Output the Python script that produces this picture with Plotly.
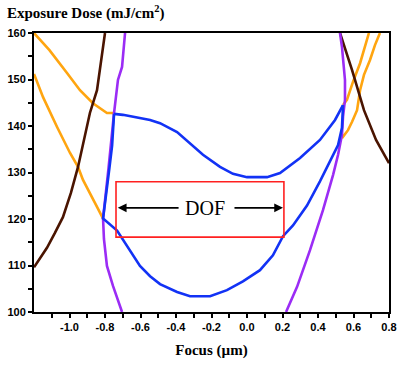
import plotly.graph_objects as go

# ---- data (focus in µm, dose in mJ/cm²) ----
orange_a_x = [-1.2, -1.113, -1.014, -0.941, -0.868, -0.789, -0.755, -0.749]
orange_a_y = [160, 156.3, 151.4, 147.7, 144.9, 142.8, 142.8, 142.6]
orange_b_x = [-1.2, -1.149, -1.070, -0.997, -0.952, -0.924, -0.845, -0.811]
orange_b_y = [151.2, 146.2, 139.8, 134.2, 131.2, 128.4, 122.6, 120.1]
orange_c_x = [0.687, 0.659, 0.637, 0.597, 0.563, 0.541]
orange_c_y = [160, 156.3, 153.5, 149.5, 145.6, 144.5]
orange_d_x = [0.749, 0.721, 0.693, 0.659, 0.637, 0.620, 0.592, 0.569, 0.535]
orange_d_y = [160, 157.4, 154.2, 151.0, 147.7, 143.4, 140.9, 139.1, 137.4]

brown_l_x = [-0.800, -0.823, -0.845, -0.885, -0.918, -0.952, -0.992, -1.037, -1.082, -1.127, -1.2]
brown_l_y = [160, 154.2, 147.7, 142.8, 137.0, 131.2, 125.6, 120.4, 117.0, 113.8, 109.6]
brown_r_x = [0.524, 0.592, 0.659, 0.727, 0.80]
brown_r_y = [160, 152.0, 143.4, 137.0, 132.0]

purple_l_x = [-0.687, -0.704, -0.727, -0.749, -0.780, -0.811, -0.806, -0.789, -0.755, -0.704]
purple_l_y = [160, 152.7, 149.9, 142.8, 131.0, 120.1, 115.7, 109.9, 105.6, 100]
purple_r_x = [0.524, 0.535, 0.552, 0.552, 0.541, 0.535, 0.513, 0.485, 0.428, 0.355, 0.282, 0.220]
purple_r_y = [160, 157.0, 149.9, 145.6, 142.0, 138.1, 133.8, 129.5, 121.9, 113.3, 105.4, 100]

blue_up_x = [-0.749, -0.699, -0.546, -0.490, -0.394, -0.321, -0.248, -0.152, -0.079, 0.0, 0.113, 0.186, 0.299, 0.411, 0.496, 0.541]
blue_up_y = [142.6, 142.4, 141.3, 140.6, 138.7, 136.3, 133.8, 131.2, 129.7, 129.0, 129.0, 129.9, 133.1, 137.0, 141.3, 144.5]
blue_lo_x = [-0.749, -0.760, -0.775, -0.790, -0.811, -0.732, -0.659, -0.603, -0.546, -0.490, -0.394, -0.321, -0.208, -0.113, -0.023,
             0.073, 0.146, 0.203, 0.259, 0.338, 0.411, 0.468, 0.513, 0.535, 0.541]
blue_lo_y = [142.6, 135.8, 131.0, 126.0, 120.1, 117.5, 113.2, 109.9, 107.7, 106.0, 104.3, 103.4, 103.4, 104.7, 106.6,
             109.0, 112.2, 116.3, 118.6, 122.9, 128.1, 132.5, 135.9, 139.6, 144.5]

x_tickvals = [-1.0, -0.8, -0.6, -0.4, -0.2, 0.0, 0.2, 0.4, 0.6, 0.8]
x_ticktext = ["-1.0", "-0.8", "-0.6", "-0.4", "-0.2", "0.0", "0.2", "0.4", "0.6", "0.8"]
x_minor = [-1.1, -0.9, -0.7, -0.5, -0.3, -0.1, 0.1, 0.3, 0.5, 0.7]
y_tickvals = [100, 110, 120, 130, 140, 150, 160]
y_minor = [105, 115, 125, 135, 145, 155]

dof_left, dof_right = -0.738, 0.208
dof_bottom, dof_top = 116.1, 128.0
dof_y = 122.4
dof_text_x = -0.237
dof_tail_left, dof_tail_right = -0.377, -0.079

ORANGE = "#FFA510"
BROWN = "#4A1400"
PURPLE = "#9B2CF5"
BLUE = "#1232F5"

fig = go.Figure()

def add(xs, ys, color):
    fig.add_trace(go.Scatter(x=xs, y=ys, mode="lines", line=dict(color=color, width=2.6),
                             showlegend=False, hoverinfo="skip"))

add(orange_a_x, orange_a_y, ORANGE)
add(orange_b_x, orange_b_y, ORANGE)
add(orange_c_x, orange_c_y, ORANGE)
add(orange_d_x, orange_d_y, ORANGE)
add(brown_l_x, brown_l_y, BROWN)
add(brown_r_x, brown_r_y, BROWN)
add(purple_l_x, purple_l_y, PURPLE)
add(purple_r_x, purple_r_y, PURPLE)
add(blue_up_x, blue_up_y, BLUE)
add(blue_lo_x, blue_lo_y, BLUE)

fig.add_shape(type="rect", xref="x", yref="y", x0=dof_left, x1=dof_right, y0=dof_bottom, y1=dof_top,
              line=dict(color="#FF2020", width=1.6))

fig.add_annotation(x=dof_text_x, y=dof_y, xref="x", yref="y", text="DOF", showarrow=False,
                   font=dict(family="Liberation Serif", size=20, color="black"))
fig.add_annotation(x=dof_left + 0.01, y=dof_y, ax=dof_tail_left, ay=dof_y, xref="x", yref="y",
                   axref="x", ayref="y", text="", showarrow=True, arrowhead=2, arrowsize=1.1,
                   arrowwidth=1.6, arrowcolor="black")
fig.add_annotation(x=dof_right - 0.005, y=dof_y, ax=dof_tail_right, ay=dof_y, xref="x", yref="y",
                   axref="x", ayref="y", text="", showarrow=True, arrowhead=2, arrowsize=1.1,
                   arrowwidth=1.6, arrowcolor="black")

# plot area: 355 x 279 px
fig.add_annotation(x=-29 / 355, y=1 + 20 / 279, xref="paper", yref="paper",
                   text="Exposure Dose (mJ/cm<sup>2</sup>)",
                   showarrow=False, xanchor="left", yanchor="middle",
                   font=dict(family="Liberation Serif", size=15, color="black", weight="bold"))

tickfont = dict(family="Liberation Sans", size=11, color="black", weight="bold")

fig.update_layout(
    width=400, height=365,
    margin=dict(l=34, r=11, t=33, b=53, autoexpand=False),
    paper_bgcolor="white", plot_bgcolor="white",
    xaxis=dict(range=[-1.2, 0.8], tickmode="array", tickvals=x_tickvals, ticktext=x_ticktext,
               ticks="outside", ticklen=4, tickwidth=1.5, tickcolor="black",
               minor=dict(tickmode="array", tickvals=x_minor,
                          ticks="outside", ticklen=4, tickwidth=1.5, tickcolor="black"),
               showline=True, linecolor="black", linewidth=2, mirror=True, automargin=False,
               showgrid=False, zeroline=False, tickfont=tickfont,
               title=dict(text="Focus (µm)", font=dict(family="Liberation Serif", size=15, color="black", weight="bold"),
                          standoff=12)),
    yaxis=dict(range=[100, 160], tickmode="array", tickvals=y_tickvals,
               ticks="outside", ticklen=4, tickwidth=1.5, tickcolor="black",
               minor=dict(tickmode="array", tickvals=y_minor,
                          ticks="outside", ticklen=4, tickwidth=1.5, tickcolor="black"),
               showline=True, linecolor="black", linewidth=2, mirror=True, automargin=False,
               showgrid=False, zeroline=False, tickfont=tickfont),
)

# remove the browser's default 8px body margin so the figure fills the window
fig.write_html("out.html", config={"displayModeBar": False},
               post_script="document.body.style.margin='0';")
